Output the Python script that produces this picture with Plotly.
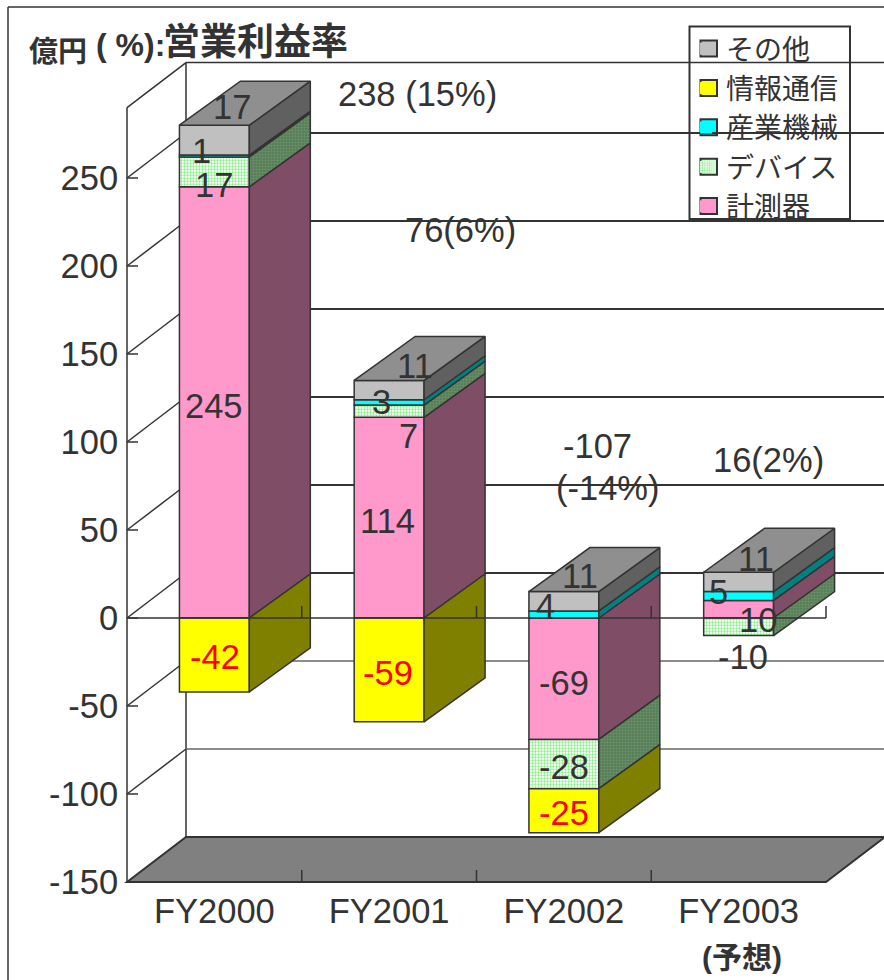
import plotly.graph_objects as go
import numpy as np

# ---------- data ----------
categories = ["FY2000", "FY2001", "FY2002", "FY2003"]
pink_keisoku = [245, 114, -69, 10]
device = [17, 7, -28, -10]
sangyo = [1, 3, 4, 5]
joho = [-42, -59, -25, None]
other = [17, 11, 11, 11]
y_ticks = [-150, -100, -50, 0, 50, 100, 150, 200, 250]

series_names = ["計測器", "デバイス", "産業機械", "情報通信", "その他"]
series_values = [pink_keisoku, device, sangyo, joho, other]

# ---------- style / geometry ----------
W, H = 884, 980
X0, UX = 127, 174.75      # pixel of x=0, pixels per category
Y0, UY = 618, 1.76        # pixel of y=0, pixels per unit
BAR_W = 0.4
DX, DY = 61 / UX, 44 / UY       # bar depth
WX, WY = 59 / UX, 45 / UY       # wall depth
WALL_TOP = 290
INK = "#333333"
FONT = "Liberation Sans, Noto Sans CJK JP, sans-serif"
FRONT = ["#FF99CC", "#CCFFCC", "#00FFFF", "#FFFF00", "#C0C0C0"]
SIDE = ["#804D66", "#668866", "#008080", "#808000", "#606060"]
TOP = "#8F8F8F"
DEVICE_PATTERN = dict(shape=".", fgcolor="#88EE88", bgcolor="#FFFFFF", size=3,
                      solidity=0.45, fillmode="replace")


def ux(px):
    return (px - X0) / UX


def uy(py):
    return (Y0 - py) / UY


x_range = [ux(0), ux(W)]
y_range = [uy(H), uy(0)]
x_pos = np.arange(len(categories)) + 0.5
YMIN, XMAX = y_ticks[0], len(categories)

fig = go.Figure()

# front faces: real stacked bars
for i, (name, vals) in enumerate(zip(series_names, series_values)):
    marker = dict(color=FRONT[i], line=dict(color=INK, width=1.5))
    if name == "デバイス":
        marker["pattern"] = DEVICE_PATTERN
    fig.add_trace(go.Bar(x=x_pos, y=vals, name=name, width=BAR_W, marker=marker,
                         hoverinfo="skip", showlegend=False))

# legend entries (borderless; the outlined swatch sits underneath as a shape)
for i, name in enumerate(series_names):
    marker = dict(color=FRONT[i], line=dict(width=0))
    if name == "デバイス":
        marker["pattern"] = DEVICE_PATTERN
    fig.add_trace(go.Bar(x=[None], y=[None], name=name, marker=marker, hoverinfo="skip"))

# side & top faces derived from the stacks
for c, xc in enumerate(x_pos):
    pos, neg = 0.0, 0.0
    xr = xc + BAR_W / 2
    xl = xc - BAR_W / 2
    for i, vals in enumerate(series_values):
        v = vals[c]
        if v is None:
            continue
        if v >= 0:
            y0, y1 = pos, pos + v
            pos = y1
        else:
            y0, y1 = neg, neg + v
            neg = y1
        kw = dict(fillcolor=SIDE[i])
        if series_names[i] == "デバイス":
            kw = dict(fillpattern=dict(shape=".", fgcolor="#77AA77", bgcolor="#557755",
                                       size=3, solidity=0.5))
        fig.add_trace(go.Scatter(
            x=[xr, xr + DX, xr + DX, xr, xr],
            y=[y0, y0 + DY, y1 + DY, y1, y0],
            mode="lines", fill="toself", line=dict(color=INK, width=1.5),
            showlegend=False, hoverinfo="skip", **kw))
    fig.add_trace(go.Scatter(
        x=[xl, xr, xr + DX, xl + DX, xl],
        y=[pos, pos, pos + DY, pos + DY, pos],
        mode="lines", fill="toself", fillcolor=TOP, line=dict(color=INK, width=1.5),
        showlegend=False, hoverinfo="skip"))

# zero plane axis with its ticks, above the bars
zx, zy = [0, XMAX], [0, 0]
for k in range(1, XMAX + 1):
    zx += [None, k, k]
    zy += [None, 0, 12 / UY]
fig.add_trace(go.Scatter(x=zx, y=zy, mode="lines", line=dict(color=INK, width=1.5),
                         showlegend=False, hoverinfo="skip"))

# walls, floor, grid: shapes under the traces
shapes = []


def seg(x0, y0, x1, y1, width=1.5, color=INK):
    shapes.append(dict(type="line", x0=x0, y0=y0, x1=x1, y1=y1, layer="below",
                       line=dict(color=color, width=width)))


shapes.append(dict(type="path", layer="below",
                   path=f"M 0 {YMIN} L {WX} {YMIN+WY} L {XMAX+WX} {YMIN+WY} L {XMAX} {YMIN} Z",
                   fillcolor="#808080", line=dict(color=INK, width=2)))
seg(0, YMIN, 0, WALL_TOP)
seg(WX, YMIN + WY, WX, WALL_TOP + WY)
seg(0, WALL_TOP, WX, WALL_TOP + WY)
seg(WX, WALL_TOP + WY, x_range[1], WALL_TOP + WY)
for t in y_ticks[1:]:
    seg(0, t, WX, t + WY)
    seg(0, t, 11 / UX, t)
    seg(WX, t + WY, x_range[1], t + WY, 2 if t >= 0 else 1.5, INK if t >= 0 else "#666666")
for k in range(1, XMAX):
    seg(k, YMIN, k, YMIN + 12 / UY)


def paper_rect(x0, y0, x1, y1, fill, lw=1.5):
    shapes.append(dict(type="rect", xref="paper", yref="paper", layer="below",
                       x0=x0 / W, x1=x1 / W, y0=1 - y0 / H, y1=1 - y1 / H,
                       fillcolor=fill, line=dict(color=INK, width=lw)))


# chart-area border
shapes.append(dict(type="line", xref="paper", yref="paper", x0=8 / W, x1=8 / W, y0=0,
                   y1=1 - 7 / H, line=dict(color=INK, width=1.5)))
shapes.append(dict(type="line", xref="paper", yref="paper", x0=8 / W, x1=1, y0=1 - 7 / H,
                   y1=1 - 7 / H, line=dict(color=INK, width=1.5)))
# legend box and outlined swatches (top row first)
paper_rect(689.5, 26.5, 850, 219, "#FFFFFF", 2)
for r, i in enumerate(reversed(range(len(series_names)))):
    cy = 48.5 + 39.4 * r
    paper_rect(700.5, cy - 8, 717, cy + 8, FRONT[i], 2)

# value labels
label_text = ["17", "1", "17", "245", "-42",
              "11", "3", "7", "114", "-59",
              "11", "4", "-69", "-28", "-25",
              "11", "5", "10", "-10"]
label_px = [(232, 107), (201, 151), (214, 185), (214, 406), (215, 657),
            (415, 366), (381, 402), (408, 436), (387, 521), (388, 673),
            (580, 576), (545, 606), (564, 683), (564, 767), (564, 813),
            (756, 559), (718, 592), (758, 620), (743, 657)]
red = {"-42", "-59", "-25"}
annotations = []


def note(text, cx, cy, size=34.5, color=INK, bold=False, xanchor="center"):
    annotations.append(dict(xref="paper", yref="paper", x=cx / W, y=1 - cy / H,
                            text=f"<b>{text}</b>" if bold else text, showarrow=False,
                            xanchor=xanchor, yanchor="middle",
                            font=dict(family=FONT, size=size, color=color)))


for t, (px, py) in zip(label_text, label_px):
    note(t, px, py, color="#FF0000" if t in red else INK)

note("238 (15%)", 417, 94)
note("76(6%)", 460, 230)
note("-107", 597, 446)
note("(-14%)", 608, 488)
note("16(2%)", 768, 460)
note("(予想)", 742, 957, size=30, bold=True)
note("億円", 27, 52, size=29, bold=True, xanchor="left")
note("( %):", 94, 45, size=32, bold=True, xanchor="left")
note("営業利益率", 161, 43, size=37, bold=True, xanchor="left")

fig.update_layout(
    width=W, height=H, margin=dict(l=0, r=0, t=0, b=0),
    paper_bgcolor="white", plot_bgcolor="white",
    barmode="relative", showlegend=True, shapes=shapes, annotations=annotations,
    font=dict(family=FONT, size=34.5, color=INK),
    legend=dict(x=686 / W, y=1 - 24 / H, xanchor="left", yanchor="top",
                traceorder="reversed", bgcolor="rgba(0,0,0,0)", borderwidth=0,
                font=dict(family=FONT, size=28, color=INK), itemclick=False),
    xaxis=dict(range=x_range, domain=[0, 1], anchor="free", position=(H - 882) / H,
               tickvals=list(x_pos), ticktext=categories, showgrid=False, zeroline=False,
               showline=False, ticks="", ticklabelstandoff=5,
               tickangle=0, automargin=False, tickfont=dict(family=FONT, size=34.5, color=INK)),
    yaxis=dict(range=y_range, domain=[0, 1], anchor="free", position=X0 / W,
               tickvals=y_ticks, ticktext=[str(t) for t in y_ticks], showgrid=False,
               zeroline=False, showline=False, ticks="outside", ticklen=2,
               tickcolor="rgba(0,0,0,0)", automargin=False,
               tickfont=dict(family=FONT, size=34.5, color=INK)),
)

fig.write_html("out.html", config=dict(displayModeBar=False),
               post_script="document.body.style.margin='0';document.body.style.overflow='hidden';")
